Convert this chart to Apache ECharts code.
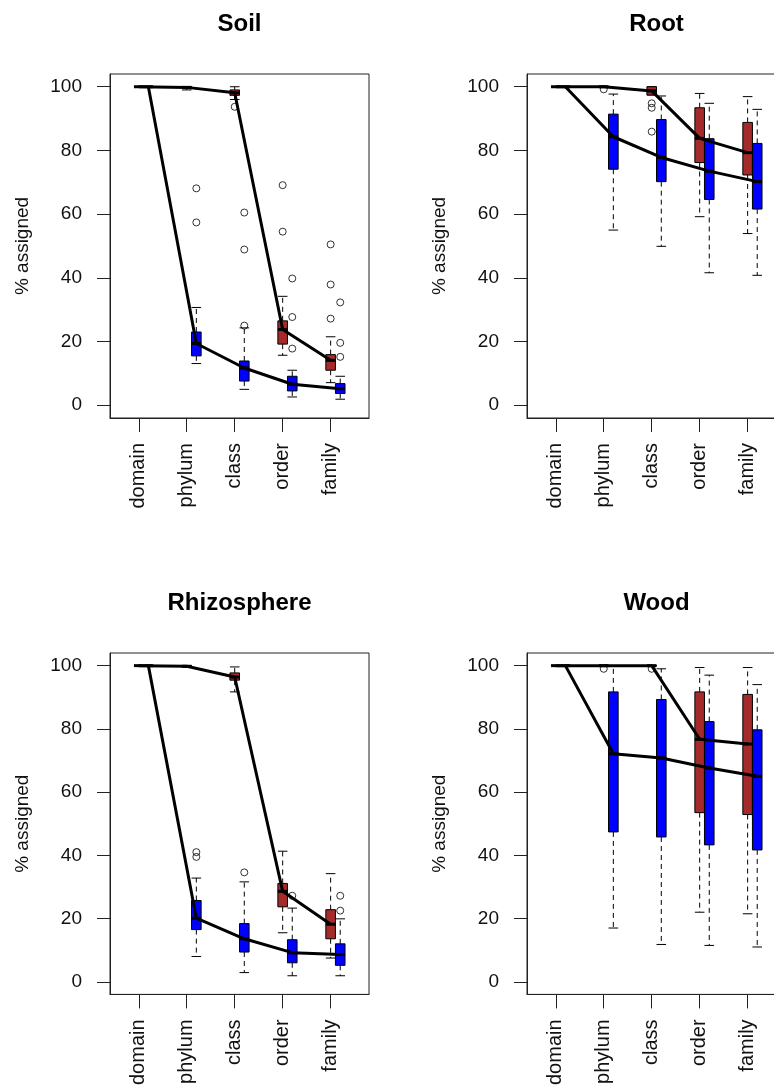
<!DOCTYPE html>
<html>
<head>
<meta charset="utf-8">
<script src="https://cdn.jsdelivr.net/npm/echarts@6/dist/echarts.min.js"></script>
<style>
html,body{margin:0;padding:0;background:#fff;overflow:hidden;}
#chart{width:800px;height:1088px;}
</style>
</head>
<body>
<div id="chart"></div>
<script>
// ---------- data ----------
const categories = ['domain', 'phylum', 'class', 'order', 'family'];
const yTicks = [0, 20, 40, 60, 80, 100];
const panelTitles = ['Soil', 'Root', 'Rhizosphere', 'Wood'];
const yAxisName = '% assigned';

// each box: [lower whisker, Q1, median, Q3, upper whisker]
const soilBrown = [[100,100,100,100,100],[99,99.5,99.8,100,100],[96,97.3,98.1,99,100],[15.7,19.2,23.8,26.5,34.2],[7.1,11.0,14.1,15.9,21.5]];
const soilBlue  = [[100,100,100,100,100],[13.1,15.5,19.4,23.0,30.7],[5.0,7.6,11.7,13.9,24.3],[2.6,4.5,6.6,9.1,11.0],[1.9,3.7,5.2,6.8,9.1]];
const soilBrownOut = [[3,93.7],[4,69.1],[4,54.5],[5,50.5],[5,37.9],[5,27.2]];
const soilBlueOut  = [[2,68.1],[2,57.4],[3,60.5],[3,48.9],[3,25.0],[4,39.8],[4,27.7],[4,17.8],[5,32.3],[5,19.6],[5,15.2]];

const rootBrown = [[100,100,100,100,100],[100,100,100,100,100],[97.4,97.4,98.7,100,100],[59.2,76.2,83.8,93.4,97.9],[53.9,72.3,79.3,88.8,96.9]];
const rootBlue  = [[100,100,100,100,100],[55.0,74.1,84.3,91.4,97.7],[49.9,70.2,77.8,89.7,97.1],[41.6,64.6,73.5,83.7,94.8],[40.8,61.6,70.2,82.2,92.9]];
const rootBrownOut = [[2,99.2],[3,94.8],[3,93.4],[3,85.9]];
const rootBlueOut  = [];

const rhizoBrown = [[100,100,100,100,100],[99.5,99.7,99.8,100,100],[91.7,95.4,96.4,97.7,99.6],[15.5,23.7,28.6,31.1,41.3],[7.5,13.6,18.2,22.8,34.2]];
const rhizoBlue  = [[100,100,100,100,100],[8.0,16.5,20.1,25.7,32.8],[2.9,9.4,13.6,18.4,31.6],[1.9,6.0,9.2,13.3,23.3],[1.9,5.2,8.6,12.0,19.9]];
const rhizoBrownOut = [];
const rhizoBlueOut  = [[2,41.0],[2,39.5],[3,34.6],[4,27.2],[5,27.2],[5,22.5]];

const woodBrown = [[100,100,100,100,100],[100,100,100,100,100],[100,100,100,100,100],[22.0,53.5,76.7,91.7,99.4],[21.5,52.9,75.2,90.9,99.4]];
const woodBlue  = [[100,100,100,100,100],[17.0,47.4,72.1,91.7,100],[11.8,45.8,70.8,89.3,99.0],[11.5,43.3,67.6,82.3,97.0],[11.0,41.7,65.0,79.7,94.0]];
const woodBrownOut = [[2,99.0],[3,99.0]];
const woodBlueOut  = [];

// ---------- layout / style ----------
const BROWN = '#A52A2A';
const BLUE = '#0000FF';
const BOX_W = 0.2;      // box width in category units
const BLUE_SHIFT = 0.2; // blue box offset from tick
const FONT = "'Liberation Sans', Arial, Helvetica, sans-serif";

const panels = [
  {title: panelTitles[0], brown: soilBrown,  blue: soilBlue,  bo: soilBrownOut,  uo: soilBlueOut,  left: 110, top: 74},
  {title: panelTitles[1], brown: rootBrown,  blue: rootBlue,  bo: rootBrownOut,  uo: rootBlueOut,  left: 527, top: 74},
  {title: panelTitles[2], brown: rhizoBrown, blue: rhizoBlue, bo: rhizoBrownOut, uo: rhizoBlueOut, left: 110, top: 653},
  {title: panelTitles[3], brown: woodBrown,  blue: woodBlue,  bo: woodBrownOut,  uo: woodBlueOut,  left: 527, top: 653}
];
const GW = 259, GH = 344;

function boxRender(color) {
  return function (params, api) {
    const x = api.value(0);
    const lo = api.coord([x, api.value(1)]);
    const q1 = api.coord([x, api.value(2)]);
    const md = api.coord([x, api.value(3)]);
    const q3 = api.coord([x, api.value(4)]);
    const hi = api.coord([x, api.value(5)]);
    const w = api.size([BOX_W, 0])[0];
    const h = w / 2;
    const cx = md[0];
    const thin = {stroke: '#000', lineWidth: 1};
    const dash = {stroke: '#000', lineWidth: 1, lineDash: [5, 4]};
    const children = [];
    if (hi[1] < q3[1] - 0.5) children.push({type: 'line', shape: {x1: cx, y1: q3[1], x2: cx, y2: hi[1]}, style: dash});
    if (lo[1] > q1[1] + 0.5) children.push({type: 'line', shape: {x1: cx, y1: q1[1], x2: cx, y2: lo[1]}, style: dash});
    children.push({type: 'line', shape: {x1: cx - h, y1: hi[1], x2: cx + h, y2: hi[1]}, style: thin});
    children.push({type: 'line', shape: {x1: cx - h, y1: lo[1], x2: cx + h, y2: lo[1]}, style: thin});
    children.push({type: 'rect', shape: {x: cx - h, y: q3[1], width: w, height: q1[1] - q3[1]}, style: {fill: color, stroke: '#000', lineWidth: 1}});
    children.push({type: 'line', shape: {x1: cx - h, y1: md[1], x2: cx + h, y2: md[1]}, style: {stroke: '#000', lineWidth: 3}});
    return {type: 'group', children: children};
  };
}

const grids = [], xAxes = [], yAxes = [], series = [], graphics = [];
panels.forEach(function (p, k) {
  grids.push({left: p.left, top: p.top, width: GW, height: GH, show: true, borderColor: '#222', borderWidth: 1, backgroundColor: 'transparent'});
  xAxes.push({
    type: 'value', gridIndex: k, min: 0.4, max: 5.8,
    axisLine: {show: true, onZero: false, lineStyle: {color: '#222', width: 1}},
    axisTick: {show: true, customValues: [1, 2, 3, 4, 5], length: 14, lineStyle: {color: '#222'}},
    axisLabel: {show: true, customValues: [1, 2, 3, 4, 5], rotate: 90, margin: 25,
      formatter: function (v) { return categories[Math.round(v) - 1]; },
      color: '#111', fontSize: 20, fontFamily: FONT},
    splitLine: {show: false}
  });
  yAxes.push({
    type: 'value', gridIndex: k, min: -4, max: 104,
    name: yAxisName, nameLocation: 'middle', nameRotate: 90, nameGap: 78,
    nameTextStyle: {color: '#111', fontSize: 19, fontFamily: FONT},
    axisLine: {show: true, onZero: false, lineStyle: {color: '#222', width: 1}},
    axisTick: {show: true, customValues: yTicks, length: 13, lineStyle: {color: '#222'}},
    axisLabel: {show: true, customValues: yTicks, margin: 28, color: '#111', fontSize: 19, fontFamily: FONT},
    splitLine: {show: false}
  });
  const brownData = p.brown.map(function (b, i) { return [i + 1].concat(b); });
  const blueData = p.blue.map(function (b, i) { return [i + 1 + BLUE_SHIFT].concat(b); });
  series.push({type: 'custom', xAxisIndex: k, yAxisIndex: k, renderItem: boxRender(BROWN), data: brownData, encode: {x: 0, y: [1, 2, 3, 4, 5]}, z: 2, clip: false});
  series.push({type: 'custom', xAxisIndex: k, yAxisIndex: k, renderItem: boxRender(BLUE), data: blueData, encode: {x: 0, y: [1, 2, 3, 4, 5]}, z: 2, clip: false});
  const outs = p.bo.map(function (o) { return [o[0], o[1]]; })
    .concat(p.uo.map(function (o) { return [o[0] + BLUE_SHIFT, o[1]]; }));
  series.push({type: 'scatter', xAxisIndex: k, yAxisIndex: k, data: outs, symbol: 'circle', symbolSize: 7,
    itemStyle: {color: 'rgba(0,0,0,0)', borderColor: '#000', borderWidth: 1}, z: 3});
  series.push({type: 'line', xAxisIndex: k, yAxisIndex: k, data: p.brown.map(function (b, i) { return [i + 1, b[2]]; }),
    symbol: 'none', lineStyle: {color: '#000', width: 3}, z: 4});
  series.push({type: 'line', xAxisIndex: k, yAxisIndex: k, data: p.blue.map(function (b, i) { return [i + 1 + BLUE_SHIFT, b[2]]; }),
    symbol: 'none', lineStyle: {color: '#000', width: 3}, z: 4});
  graphics.push({type: 'text', x: p.left + GW / 2, y: p.top - 50, style: {text: p.title, font: 'bold 24px ' + FONT, fill: '#000', align: 'center', verticalAlign: 'middle'}});
});

const chart = echarts.init(document.getElementById('chart'), null, {renderer: 'canvas'});
chart.setOption({
  animation: false,
  backgroundColor: '#fff',
  grid: grids, xAxis: xAxes, yAxis: yAxes, series: series,
  graphic: graphics
});
</script>
</body>
</html>
